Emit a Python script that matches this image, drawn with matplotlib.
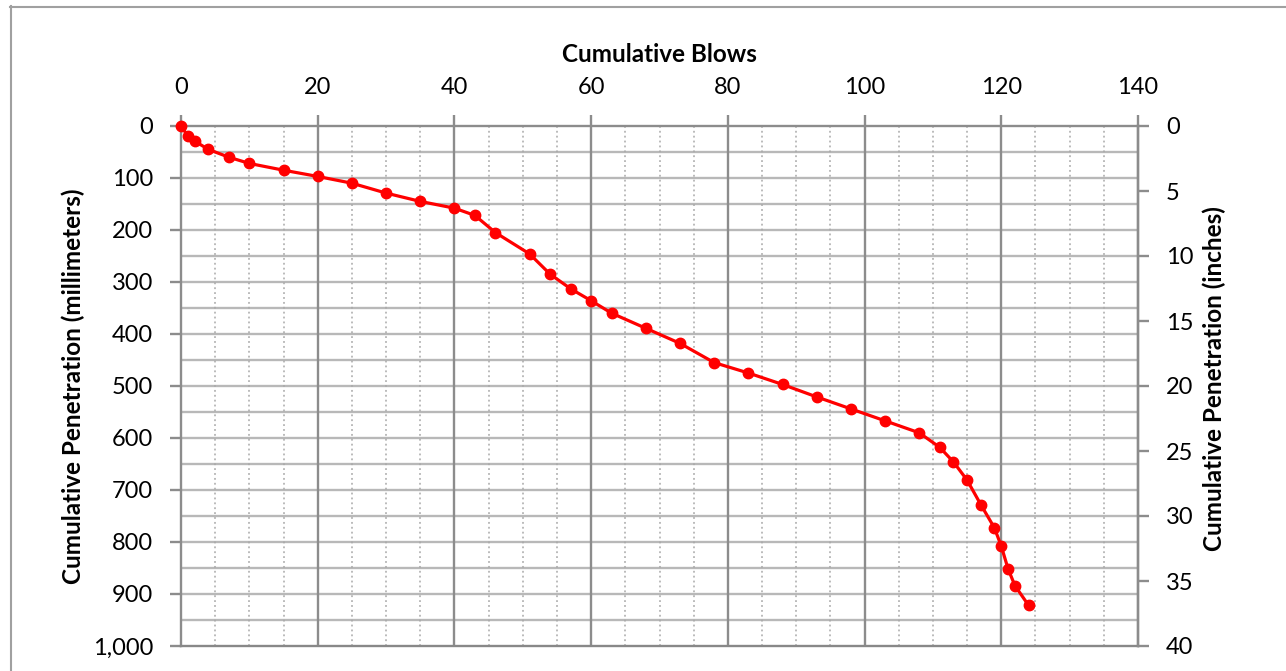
import matplotlib
matplotlib.use("Agg")
import matplotlib.pyplot as plt
from matplotlib.lines import Line2D
import numpy as np

blows = [0, 1, 2, 4, 7, 10, 15, 20, 25, 30, 35, 40, 43, 46, 51, 54, 57, 60, 63, 68,
         73, 78, 83, 88, 93, 98, 103, 108, 111, 113, 115, 117, 119, 120, 121, 122, 124]
penetration_mm = [0, 19, 29, 45, 60, 72, 85, 97, 110, 129, 145, 158, 172, 205, 246, 285,
                  313, 336, 360, 389, 418, 455, 475, 497, 521, 544, 567, 590, 618, 646,
                  681, 728, 773, 808, 852, 884, 922]
x_ticks = [0, 20, 40, 60, 80, 100, 120, 140]
y_ticks_mm = [0, 100, 200, 300, 400, 500, 600, 700, 800, 900, 1000]
y_tick_labels_mm = ["0", "100", "200", "300", "400", "500", "600", "700", "800", "900", "1,000"]
y_ticks_in = [0, 5, 10, 15, 20, 25, 30, 35, 40]

plt.rcParams['font.family'] = ['Lato', 'DejaVu Sans']

W, H = 1286, 671
fig = plt.figure(figsize=(W / 100, H / 100), dpi=100)
L, R, T, B = 181, 1138, 126, 646
ax = fig.add_axes([L / W, 1 - B / H, (R - L) / W, (B - T) / H])

ax.set_xlim(0, 140)
ax.set_ylim(1000, 0)

major_c = "#8c8c8c"
TICK_FS = 17
LABEL_FS = 17.5

# gridlines
for yv in np.arange(50, 1000, 50):
    ax.axhline(yv, color="#b8b8b8", lw=1.7, zorder=1)
for xv in np.arange(5, 140, 5):
    if xv % 20 == 0:
        ax.axvline(xv, color=major_c, lw=1.7, zorder=1.2)
    else:
        ax.axvline(xv, color="#a8a8a8", lw=1.1, ls=(0, (1.2, 2.0)), zorder=1.1)

ax.plot(blows, penetration_mm, color="#ff0000", lw=2.3, marker="o", ms=7.5,
        zorder=3, clip_on=False)

for s in ax.spines.values():
    s.set_color(major_c)
    s.set_linewidth(1.7)
ax.spines['bottom'].set_color("#888888")

ax.xaxis.tick_top()
ax.set_xticks(x_ticks)
ax.set_xticklabels([str(v) for v in x_ticks])
ax.set_yticks(y_ticks_mm)
ax.set_yticklabels(y_tick_labels_mm)
ax.tick_params(axis="both", direction="out", length=8, width=1.7, color=major_c,
               labelsize=TICK_FS, labelcolor="black")
ax.tick_params(axis="x", pad=12)
ax.tick_params(axis="y", pad=12)

ax2 = ax.twinx()
ax2.set_ylim(40, 0)
ax2.set_yticks(y_ticks_in)
ax2.set_yticklabels([str(v) for v in y_ticks_in])
ax2.tick_params(axis="y", direction="out", length=8, width=1.7, color=major_c,
                labelsize=TICK_FS, labelcolor="black", pad=12)
for s in ax2.spines.values():
    s.set_visible(False)
ax2.spines['right'].set_visible(True)
ax2.spines['right'].set_color(major_c)
ax2.spines['right'].set_linewidth(1.7)

# axis titles
fig.text(659 / W, 1 - 54 / H, "Cumulative Blows", fontsize=LABEL_FS, fontweight="bold",
         ha="center", va="center")
fig.text(73 / W, 1 - 386 / H, "Cumulative Penetration (millimeters)", fontsize=LABEL_FS,
         fontweight="bold", ha="center", va="center", rotation=90)
fig.text(1214 / W, 1 - 379 / H, "Cumulative Penetration (inches)", fontsize=LABEL_FS,
         fontweight="bold", ha="center", va="center", rotation=90)

# outer chart border
fig.add_artist(Line2D([10.5 / W, 10.5 / W], [0, 1 - 6 / H], transform=fig.transFigure,
                      color="#a0a0a0", lw=1.5))
fig.add_artist(Line2D([10 / W, 1], [1 - 6.5 / H, 1 - 6.5 / H], transform=fig.transFigure,
                      color="#a0a0a0", lw=1.5))

fig.savefig("out.png", dpi=100)
